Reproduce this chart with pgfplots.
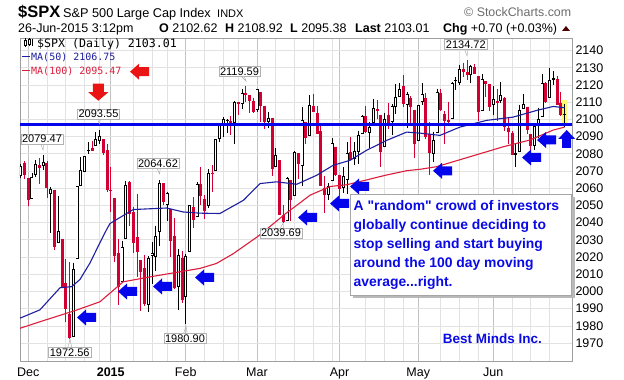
\documentclass[border=0pt]{standalone}
\usepackage{pgfplots}
\pgfplotsset{compat=1.18}
\usepackage{pgfplotstable}
\usepackage{fontspec}
\setmainfont{Liberation Sans}
\newfontfamily\monofont{DejaVu Sans Mono}
\definecolor{candlered}{RGB}{210,0,50}
\definecolor{maF}{RGB}{30,30,160}
\definecolor{maH}{RGB}{220,30,60}
\definecolor{arrblue}{RGB}{5,5,235}
\definecolor{txtblue}{RGB}{10,10,230}
\definecolor{gridc}{RGB}{226,226,226}
\definecolor{gridm}{RGB}{195,195,195}
\definecolor{arrred}{RGB}{235,20,20}

% up candles: close >= open
\pgfplotstableread{
i o h l c
-2 2067.0 2073.8 2066.0 2072.8
1 2053.8 2068.8 2053.8 2066.6
2 2067.5 2076.3 2066.7 2074.3
4 2072.8 2079.5 2070.8 2075.4
6 2056.6 2060.6 2034.2 2059.8
8 2027.9 2055.5 2027.9 2035.3
12 1973.8 2016.8 1973.8 2012.9
13 2018.9 2061.2 2018.9 2061.2
14 2061.0 2077.9 2061.0 2070.7
15 2069.3 2078.8 2069.3 2078.5
16 2081.5 2086.7 2079.8 2082.2
18 2084.3 2092.7 2084.3 2088.8
19 2087.6 2093.6 2085.8 2090.6
25 2005.6 2029.6 2005.6 2025.9
26 2030.6 2064.1 2030.6 2062.1
32 1992.3 2020.5 1988.1 2019.4
33 2020.8 2028.9 2004.5 2022.6
34 2020.2 2038.3 2012.0 2032.1
35 2034.3 2064.6 2026.4 2063.2
37 2050.4 2057.6 2040.9 2057.1
40 2002.5 2024.6 1989.2 2021.3
42 1996.7 2021.7 1980.9 2020.9
43 2022.7 2050.3 2022.7 2050.0
45 2043.5 2063.6 2043.5 2062.5
48 2049.4 2070.9 2048.6 2068.6
50 2070.0 2088.5 2070.0 2088.5
51 2088.8 2097.0 2086.7 2097.0
52 2096.5 2101.3 2089.8 2100.3
53 2099.2 2100.2 2092.2 2099.7
55 2097.6 2110.6 2085.4 2110.3
57 2109.1 2117.9 2105.9 2115.5
61 2105.2 2117.5 2104.5 2117.4
64 2098.5 2104.3 2095.2 2101.0
66 2072.3 2083.5 2072.2 2079.4
69 2041.1 2066.4 2041.1 2066.0
71 2055.4 2081.4 2055.4 2081.2
73 2072.8 2106.9 2061.2 2099.5
75 2090.3 2113.9 2090.3 2108.1
80 2055.8 2062.8 2053.0 2061.0
81 2064.1 2089.0 2064.1 2086.2
84 2060.0 2072.2 2057.3 2067.0
85 2064.9 2087.0 2056.5 2080.6
87 2076.9 2086.7 2073.3 2081.9
88 2081.3 2093.3 2074.3 2091.2
89 2091.5 2102.6 2091.5 2102.1
91 2092.3 2098.6 2083.2 2095.8
92 2097.8 2111.9 2097.8 2106.6
95 2084.1 2103.9 2084.1 2100.4
97 2098.3 2109.0 2091.1 2108.0
98 2107.2 2120.5 2103.2 2112.9
99 2112.8 2120.9 2112.8 2117.7
101 2108.4 2116.0 2094.9 2114.8
104 2087.4 2108.4 2087.4 2108.3
105 2110.2 2120.9 2108.3 2114.5
108 2080.0 2092.9 2075.0 2088.0
109 2092.1 2117.7 2092.1 2116.1
113 2100.4 2121.5 2100.4 2121.1
114 2122.1 2124.9 2117.1 2122.7
115 2121.3 2131.8 2120.0 2129.2
118 2125.6 2131.8 2120.9 2130.8
121 2105.1 2126.2 2105.1 2123.5
124 2108.6 2119.2 2102.5 2111.7
126 2110.6 2121.9 2109.6 2114.1
130 2079.1 2085.6 2072.1 2080.2
131 2081.1 2108.5 2081.1 2105.2
132 2106.2 2115.0 2106.2 2108.9
135 2084.3 2097.4 2082.1 2096.3
136 2097.4 2106.8 2088.9 2100.4
137 2101.6 2126.6 2101.6 2121.2
139 2112.5 2129.9 2112.5 2122.9
140 2123.0 2128.0 2119.9 2124.2
143 2102.6 2108.9 2095.4 2103.0
}\upc

% down candles: close < open
\pgfplotstableread{
i o h l c
-1 2074.8 2075.8 2065.1 2067.6
0 2065.8 2065.8 2049.6 2053.4
3 2073.6 2077.3 2062.3 2071.9
5 2074.8 2075.8 2054.3 2060.3
7 2058.9 2058.9 2024.3 2026.1
9 2030.4 2030.4 2002.3 2002.3
10 2005.0 2018.7 1982.3 1989.6
11 1986.7 2016.9 1972.6 1972.7
17 2083.3 2087.6 2081.9 2081.9
20 2088.5 2088.5 2079.5 2080.4
21 2082.1 2085.7 2057.9 2058.9
22 2058.9 2072.4 2046.0 2058.2
23 2054.4 2054.4 2017.3 2020.6
24 2022.2 2030.3 1992.4 2002.6
27 2063.5 2064.4 2038.3 2044.8
28 2046.1 2049.3 2022.6 2028.3
29 2031.6 2056.9 2008.3 2023.0
30 2018.4 2018.4 1988.4 2011.3
31 2013.8 2021.4 1991.5 1992.7
36 2062.9 2062.9 2050.5 2051.8
38 2047.9 2047.9 2019.9 2029.6
39 2032.3 2042.5 2001.5 2002.2
41 2019.4 2023.3 1993.4 1995.0
44 2048.9 2054.7 2036.7 2041.5
46 2062.3 2072.4 2050.0 2055.5
47 2053.5 2056.2 2041.9 2046.7
49 2068.6 2073.5 2058.0 2068.5
54 2099.3 2102.1 2090.8 2097.5
56 2109.8 2110.1 2102.5 2109.7
58 2115.3 2119.6 2109.9 2113.9
59 2113.9 2113.9 2103.8 2110.7
60 2110.9 2112.7 2103.8 2104.5
62 2115.8 2115.8 2098.3 2107.8
63 2107.7 2107.7 2094.5 2098.5
65 2100.9 2100.9 2067.3 2071.3
67 2076.1 2076.1 2044.2 2044.2
68 2044.7 2050.1 2039.7 2040.2
70 2064.6 2064.6 2041.2 2053.4
72 2080.6 2080.6 2065.1 2074.3
74 2098.7 2098.7 2085.6 2089.3
76 2108.0 2114.9 2104.4 2104.4
77 2103.9 2107.6 2091.5 2091.5
78 2093.1 2097.4 2061.1 2061.1
79 2059.9 2067.2 2045.5 2056.2
82 2084.1 2084.1 2067.0 2067.9
83 2067.6 2067.6 2048.4 2059.7
86 2080.8 2089.8 2076.1 2076.3
90 2102.0 2107.7 2092.3 2092.4
93 2106.0 2111.3 2100.0 2105.0
94 2102.6 2102.6 2072.4 2081.2
96 2102.8 2109.6 2094.4 2097.3
100 2119.3 2125.9 2107.0 2108.9
102 2112.5 2113.7 2097.4 2106.9
103 2105.5 2105.5 2077.6 2085.5
106 2112.6 2115.2 2088.5 2089.5
107 2091.3 2098.4 2067.9 2080.2
110 2115.6 2117.7 2104.6 2105.3
111 2102.9 2105.1 2085.6 2099.1
112 2099.6 2110.2 2096.0 2098.5
116 2129.5 2133.0 2124.5 2127.8
117 2127.8 2134.7 2122.6 2125.9
119 2130.4 2132.2 2126.1 2126.1
120 2125.3 2125.3 2099.2 2104.2
122 2122.3 2122.3 2112.8 2120.8
123 2120.7 2120.7 2104.9 2107.4
125 2110.4 2117.6 2099.1 2109.6
127 2112.4 2112.9 2093.2 2095.8
128 2095.1 2101.0 2085.7 2092.8
129 2092.3 2093.0 2079.1 2079.3
133 2107.4 2107.4 2091.3 2094.1
134 2091.3 2091.3 2079.5 2084.4
138 2121.1 2121.6 2109.6 2110.0
141 2123.7 2125.1 2108.6 2108.6
142 2109.7 2116.0 2101.8 2102.3
}\dnc

\pgfplotstableread{
i v
-2.2 1984.5
3.1 1989.3
8.5 2002.2
11.6 2002.8
13.8 2007
16.5 2016.7
19.1 2028.3
20.9 2036
21.8 2039.5
28 2047.6
36.9 2048.5
41.3 2046.2
45.8 2045.5
51.1 2045.3
57.4 2053
61.8 2062.7
66.2 2063.7
71.6 2062.3
76.9 2067.5
81.3 2073.3
85.8 2076.2
90.2 2082
95.6 2087.8
100.9 2092.6
104.5 2092
109.8 2090.7
115.1 2095.5
122.2 2099.4
129.3 2101.3
135.6 2105.2
140 2107.5
143 2106.75
}\maFifty

\pgfplotstableread{
i v
-2.2 1978.6
3.1 1982.4
12.9 1989.2
19.1 1994
25.3 2005.6
32.5 2008.5
38.7 2010.8
45.8 2013.4
50.2 2016.3
54.7 2022
61.3 2032.1
68.5 2045
75.2 2056
80.5 2061
84.9 2062
90.2 2064.8
95.6 2067.7
101 2070.2
104.5 2071
108.9 2072.5
117.8 2078.3
126.7 2084.1
133.8 2088
140 2093.8
143 2095.47
}\maHundred

\newcommand{\larrow}[3]{\fill[#3] (#1,{380-#2}) -- ++(9,8) -- ++(0,-3.5) -- ++(10,0) -- ++(0,-9) -- ++(-10,0) -- ++(0,-3.5) -- cycle;}
\newcommand{\uarrow}[3]{\fill[#3] (#1,{380-#2}) -- ++(8.5,-9) -- ++(-4,0) -- ++(0,-9) -- ++(-9,0) -- ++(0,9) -- ++(-4,0) -- cycle;}
\newcommand{\darrow}[3]{\fill[#3] (#1,{380-#2}) -- ++(10,8.5) -- ++(-4.5,0) -- ++(0,8.5) -- ++(-11,0) -- ++(0,-8.5) -- ++(-4.5,0) -- cycle;}
\newcommand{\vlab}[5]{%
  \draw[gray!70] ({#1-3},{380-#2}) -- (#3,{380-#4}) -- ({#1+3},{380-#2});
  \node[draw=gray!60, fill=white, inner sep=1.3pt, font=\fontsize{11}{11}\selectfont] at (#1,{380-#2}) {#5};}
\pgfplotsset{candle/.style={draw=none, mark=none, forget plot,
  error bars/.cd, y dir=minus, y explicit, error mark=none}}

\begin{document}
\begin{tikzpicture}[x=1pt,y=1pt]
\useasboundingbox (0,0) rectangle (624,380);
\fill[white] (0,0) rectangle (624,380);
\begin{axis}[
  at={(20pt,18.3pt)}, anchor=south west, scale only axis,
  width=552pt, height=323.4pt,
  xmin=-2.2, xmax=145, ymin=1959.2, ymax=2147.1,
  axis line style={gray!75},
  xtick={0,22,42,61,83,104,124},
  xticklabels={Dec,\textbf{2015},Feb,Mar,Apr,May,Jun},
  minor xtick={5,10,15,19,28,33,37,47,52,56,66,71,76,81,90,95,100,110,115,120,129,134,139},
  ytick={1970,1980,...,2140},
  yticklabel pos=right,
  major tick length=0pt, minor tick length=0pt,
  xmajorgrids, xminorgrids, ymajorgrids,
  major x grid style={gridm, line width=0.7pt},
  minor x grid style={gridc, line width=0.7pt},
  major y grid style={gridc, line width=0.7pt},
  tick label style={font=\fontsize{12.5}{12.5}\selectfont},
  xticklabel style={anchor=base, yshift=-14.5pt},
  /pgf/number format/assume math mode=true,
  /pgf/number format/1000 sep={},
]
\fill[yellow!55] (axis cs:142.4,2097.6) rectangle (axis cs:143.6,2111.2);
% wicks
\addplot[candle, error bar style={line width=0.9pt, draw=black}]
  table[x=i, y=h, y error minus expr=\thisrow{h}-\thisrow{l}] {\upc};
\addplot[candle, error bar style={line width=0.9pt, draw=candlered}]
  table[x=i, y=h, y error minus expr=\thisrow{h}-\thisrow{l}] {\dnc};
% bodies
\addplot[candle, error bar style={line width=3pt, draw=candlered}]
  table[x=i, y=o, y error minus expr={max(\thisrow{o}-\thisrow{c},0.6)}] {\dnc};
\addplot[candle, error bar style={line width=3pt, draw=black}]
  table[x=i, y=c, y error minus expr={max(\thisrow{c}-\thisrow{o},0.6)}] {\upc};
\addplot[candle, error bar style={line width=1.4pt, draw=white}]
  table[x=i, y expr=\thisrow{c}-0.6, y error minus expr={max(\thisrow{c}-\thisrow{o}-1.2,0)}] {\upc};
% moving averages
\addplot[maF, line width=1.1pt, mark=none] table[x=i, y=v] {\maFifty};
\addplot[maH, line width=1.1pt, mark=none] table[x=i, y=v] {\maHundred};
% horizontal line
\addplot[arrblue, line width=2.8pt, mark=none] coordinates {(-2.2,2097) (145,2097)};
\end{axis}

% value labels
\vlab{42}{139}{43}{150}{2079.47}
\vlab{98.5}{114}{99.5}{124}{2093.55}
\vlab{158}{163.5}{159.5}{174}{2064.62}
\vlab{239.5}{71.5}{246}{81}{2119.59}
\vlab{465.8}{44.5}{467}{56}{2134.72}
\vlab{69.7}{352.5}{70}{339}{1972.56}
\vlab{185}{338.5}{186}{326}{1980.90}
\vlab{281}{233}{283}{223}{2039.69}

% arrows
\larrow{77}{317.5}{arrblue}
\larrow{118}{291.5}{arrblue}
\larrow{153}{286.5}{arrblue}
\larrow{195}{277.5}{arrblue}
\larrow{298}{217.5}{arrblue}
\larrow{330}{203.5}{arrblue}
\larrow{350}{186.5}{arrblue}
\larrow{433}{170.8}{arrblue}
\larrow{522}{157.5}{arrblue}
\larrow{537}{140}{arrblue}
\uarrow{566.7}{130}{arrblue}
\darrow{98.3}{100.7}{arrred}
\larrow{130}{71.7}{arrred}

% comment box
\fill[gray!55] (353,{380-298}) rectangle (574.5,{380-197});
\filldraw[fill=white, draw=gray!70, line width=0.8pt] (350,{380-194}) rectangle (571.7,{380-295});
\begin{scope}[every node/.style={anchor=base west, inner sep=0pt, text=txtblue, font=\fontsize{13.9}{13.9}\selectfont\bfseries}]
\node at (353.5,{380-210.5}) {A \textquotedbl random\textquotedbl{} crowd of investors};
\node at (353.5,{380-229.5}) {globally continue deciding to};
\node at (353.5,{380-248.5}) {stop selling and start buying};
\node at (353.5,{380-267.8}) {around the 100 day moving};
\node at (353.5,{380-286.8}) {average...right.};
\node[font=\fontsize{13.5}{13.5}\selectfont\bfseries] at (442.7,{380-344}) {Best Minds Inc.};
\end{scope}

% header
\begin{scope}[every node/.style={anchor=base west, inner sep=0pt}]
\node[font=\fontsize{16.5}{16.5}\selectfont\bfseries] at (18,362) {\$SPX};
\node[font=\fontsize{12.7}{12.7}\selectfont] at (63,362) {S\&P 500 Large Cap Index};
\node[font=\fontsize{11}{11}\selectfont] at (217,362) {INDX};
\node[font=\fontsize{12.5}{12.5}\selectfont] at (18,347) {26-Jun-2015 3:12pm};
\node[font=\fontsize{12.5}{12.5}\selectfont] at (159,347) {\textbf{O} 2102.62};
\node[font=\fontsize{12.5}{12.5}\selectfont] at (225,347) {\textbf{H} 2108.92};
\node[font=\fontsize{12.5}{12.5}\selectfont] at (290,347) {\textbf{L} 2095.38};
\node[font=\fontsize{12.5}{12.5}\selectfont] at (355,347) {\textbf{Last} 2103.01};
\node[font=\fontsize{12.5}{12.5}\selectfont] at (443,347) {\textbf{Chg} +0.70 (+0.03\%)};
\node[font=\fontsize{12.4}{12.4}\selectfont, text=gray!85!black] at (464,363.5) {© StockCharts.com};
% legend
\node[font=\monofont\fontsize{11.6}{11.6}\selectfont] at (37,332.5) {\$SPX (Daily) 2103.01};
\node[font=\monofont\fontsize{10}{10}\selectfont, text=maF] at (31,319.5) {MA(50) 2106.75};
\node[font=\monofont\fontsize{10}{10}\selectfont, text=maH] at (31,305.5) {MA(100) 2095.47};
\end{scope}
\fill[black!70!red] (566,354) -- (562,349) -- (570,349) -- cycle;
\draw[maF, line width=1.3pt] (22,323.5) -- (30,323.5);
\draw[maH, line width=1.3pt] (22,309.5) -- (30,309.5);
% legend candle icon
\draw[black, line width=0.6pt] (25,341.5) -- (25,333) (29,342) -- (29,334);
\filldraw[fill=white, draw=black, line width=0.5pt] (24,339.5) rectangle (26,335);
\filldraw[fill=white, draw=black, line width=0.5pt] (28,340.5) rectangle (30,336);
\draw[black, line width=0.6pt] (32,341) -- (32,334);
\end{tikzpicture}
\end{document}
